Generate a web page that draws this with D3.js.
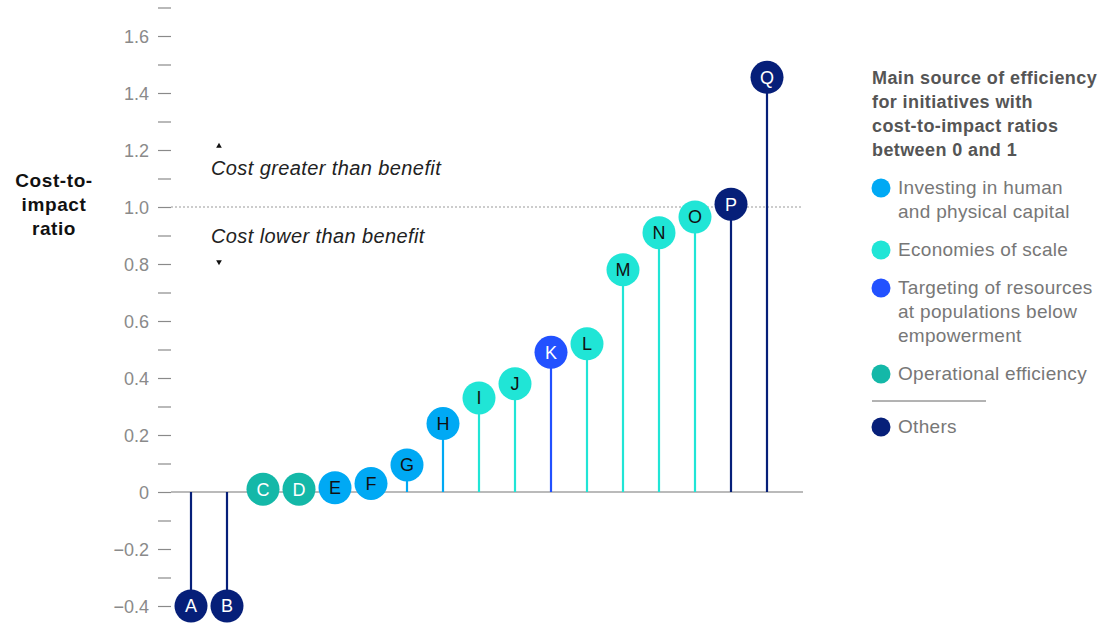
<!DOCTYPE html>
<html>
<head>
<meta charset="utf-8">
<script src="https://cdn.jsdelivr.net/npm/d3@7"></script>
<style>
  html, body { margin: 0; padding: 0; background: #fff; }
  svg { display: block; font-family: "Liberation Sans", Arial, sans-serif; }
</style>
</head>
<body>
<svg id="chart" width="1112" height="624"></svg>
<script>
// Initiatives, their cost-to-impact ratio and main source of efficiency
const initiatives = ["A","B","C","D","E","F","G","H","I","J","K","L","M","N","O","P","Q"];
const ratios      = [-0.4,-0.4,0.01,0.01,0.015,0.03,0.095,0.24,0.33,0.38,0.49,0.52,0.78,0.91,0.965,1.01,1.455];
const sources     = ["others","others","ops","ops","invest","invest","invest","invest","scale","scale","target","scale","scale","scale","scale","others","others"];

const sourceKeys   = ["invest","scale","target","ops","others"];
const sourceLabels = [
  ["Investing in human", "and physical capital"],
  ["Economies of scale"],
  ["Targeting of resources", "at populations below", "empowerment"],
  ["Operational efficiency"],
  ["Others"]
];
const sourceColors = ["#00a9f4","#20e5d6","#2251ff","#14b8a8","#061f79"];
const darkText     = ["invest","scale"];

const tickValues = d3.range(-4, 18).map(v => v / 10);
const legendTitle = ["Main source of efficiency","for initiatives with","cost-to-impact ratios","between 0 and 1"];

const svg = d3.select("#chart");
const color = d3.scaleOrdinal(sourceKeys, sourceColors);

const x = d3.scalePoint(initiatives, [191, 767]);
const y = d3.scaleLinear([0, 1], [492, 207]);

// y axis: short dashes at every tenth, labels on even tenths
const fmt = v => {
  const r = Math.round(v * 10);
  if (r === 0) return "0";
  return (r < 0 ? "\u2212" : "") + Math.abs(v).toFixed(1);
};
const yAxis = d3.axisLeft(y)
  .tickValues(tickValues)
  .tickSize(0)
  .tickPadding(0)
  .tickFormat(v => Math.round(v * 10) % 2 === 0 ? fmt(v) : "");
const gy = svg.append("g").attr("transform", "translate(158,0)").call(yAxis);
gy.select(".domain").remove();
gy.selectAll(".tick text")
  .attr("x", -9)
  .attr("dy", "0.35em")
  .attr("fill", "#8a8a8a")
  .style("font-size", "18px")
  .style("font-family", "Liberation Sans, Arial, sans-serif");
gy.selectAll(".tick").append("line")
  .attr("x1", 0).attr("x2", 13)
  .attr("stroke", "#8a8a8a").attr("stroke-width", 1.2);

// axis title
svg.append("text")
  .attr("x", 54).attr("y", 187)
  .attr("text-anchor", "middle")
  .attr("fill", "#111")
  .style("font-size", "19px").style("font-weight", "bold")
  .style("letter-spacing", "0.6px")
  .selectAll("tspan").data(["Cost-to-", "impact", "ratio"]).join("tspan")
  .attr("x", 54).attr("dy", (d, i) => i ? 24 : 0).text(d => d);

// zero baseline and break-even line
svg.append("line")
  .attr("x1", 171).attr("x2", 803).attr("y1", y(0)).attr("y2", y(0))
  .attr("stroke", "#777").attr("stroke-width", 1.2);
svg.append("line")
  .attr("x1", 171).attr("x2", 803).attr("y1", y(1)).attr("y2", y(1))
  .attr("stroke", "#999").attr("stroke-width", 1).attr("stroke-dasharray", "2,2");

// annotations around the break-even line
const ann = svg.append("g").attr("fill", "#222")
  .style("font-size", "20px").style("font-style", "italic")
  .style("letter-spacing", "0.4px");
ann.append("text").attr("x", 211).attr("y", y(1.1) - 4).text("Cost greater than benefit");
ann.append("text").attr("x", 211).attr("y", y(0.9) + 7).text("Cost lower than benefit");
const tri = d3.symbol().type(d3.symbolTriangle).size(14);
svg.append("path").attr("d", tri()).attr("fill", "#111")
  .attr("transform", `translate(219,${y(1.2) - 4})`);
svg.append("path").attr("d", tri()).attr("fill", "#111")
  .attr("transform", `translate(219,${y(0.8) - 2}) rotate(180)`);

// lollipops
const data = initiatives.map((k, i) => ({ k, v: ratios[i], s: sources[i] }));
const r = 16.5;
svg.append("g").selectAll("line").data(data).join("line")
  .attr("x1", d => x(d.k)).attr("x2", d => x(d.k))
  .attr("y1", y(0)).attr("y2", d => y(d.v))
  .attr("stroke", d => color(d.s)).attr("stroke-width", 2.2);
const dots = svg.append("g").selectAll("g").data(data).join("g")
  .attr("transform", d => `translate(${x(d.k)},${y(d.v)})`);
dots.append("circle").attr("r", r).attr("fill", d => color(d.s));
dots.append("text")
  .attr("text-anchor", "middle").attr("dy", "0.36em")
  .attr("fill", d => darkText.includes(d.s) ? "#111" : "#fff")
  .style("font-size", "18px")
  .text(d => d.k);

// legend
const lg = svg.append("g");
lg.append("text")
  .attr("fill", "#555").style("font-size", "18px").style("font-weight", "bold")
  .style("letter-spacing", "0.4px")
  .selectAll("tspan").data(legendTitle).join("tspan")
  .attr("x", 872).attr("y", (d, i) => 84 + i * 24).text(d => d);

const itemY = [194, 256, 294, 380, 433];
sourceKeys.forEach((k, i) => {
  const g = lg.append("g");
  g.append("circle").attr("cx", 881).attr("cy", itemY[i] - 6).attr("r", 9.5).attr("fill", color(k));
  g.append("text").attr("fill", "#777").style("font-size", "19px")
    .style("letter-spacing", "0.3px")
    .selectAll("tspan").data(sourceLabels[i]).join("tspan")
    .attr("x", 898).attr("y", (d, j) => itemY[i] + j * 24).text(d => d);
});
lg.append("line").attr("x1", 872).attr("x2", 986).attr("y1", 401).attr("y2", 401)
  .attr("stroke", "#666").attr("stroke-width", 1);
</script>
</body>
</html>
